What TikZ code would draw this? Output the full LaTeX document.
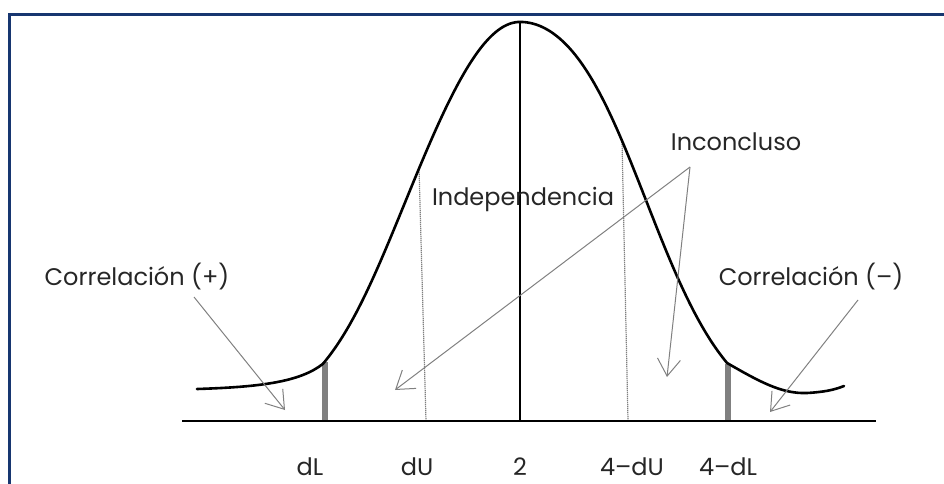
\documentclass[tikz,border=0pt]{standalone}
\usepackage{fontspec}
\setmainfont{Poppins}
\usetikzlibrary{arrows.meta}
\definecolor{framenavy}{RGB}{23,54,112}
\begin{document}
\begin{tikzpicture}[x=1pt,y=-1pt,
  txt/.style={font=\fontsize{24}{28}\selectfont, inner sep=0pt, anchor=base, text=black!85},
  bell/.style={line width=2.6pt, line join=round, line cap=round},
  axisline/.style={line width=2.4pt},
  midline/.style={line width=2pt},
  dotline/.style={draw=black!50, line width=1.2pt, dash pattern=on 1.2pt off 0.8pt},
  critbar/.style={draw=black!50, line width=6pt},
  ptr/.style={draw=black!50, line width=1pt, -{Straight Barb[length=17pt,width=23pt,line width=1pt]}}]
\useasboundingbox (0,0) rectangle (944,484);
% frame
\draw[framenavy, line width=3pt, line join=miter] (9,484) -- (9,15) -- (944,15);
% key coordinates
\coordinate (peak) at (520,22);
\coordinate (mid0) at (520,421);
\coordinate (axL) at (182,421);
\coordinate (axR) at (876,421);
\coordinate (dLt) at (325,362);
\coordinate (dLb) at (325,421);
\coordinate (dUt) at (419,168);
\coordinate (dUb) at (426,421);
\coordinate (fdUt) at (622,142);
\coordinate (fdUb) at (628,421);
\coordinate (fdLt) at (728,364);
\coordinate (fdLb) at (728,421);
% critical bars and dotted lines
\draw[critbar] (dLt) -- (dLb);
\draw[critbar] (fdLt) -- (fdLb);
\draw[dotline] (dUt) -- (dUb);
\draw[dotline] (fdUt) -- (fdUb);
% axis and centre
\draw[axisline] (axL) -- (axR);
\draw[midline] (peak) -- (mid0);
% bell curve: tails + two half-bells
\draw[bell] (197,389) .. controls (260,387) and (300,382) .. (323,363.8)
  -- plot[domain=323:520, samples=90, variable=\x]
     (\x, {422-400*exp(-0.5*((520-\x)/(100+7*exp(-((520-\x)/150)^4)))^2)})
  -- plot[domain=520:727, samples=90, variable=\x]
     (\x, {422-400*exp(-0.5*((\x-520)/(104+36*exp(-((\x-520)/120)^2)))^2)})
  .. controls (760,382) and (782,394) .. (807,393)
  .. controls (824,392) and (834,390) .. (844,386);
% texts
\node[txt] (cpos) at (137,285) {Correlación (+)};
\node[txt] (cneg) at (811,285) {Correlación (–)};
\node[txt] (inc) at (736,150) {Inconcluso};
\node[txt] (ind) at (523,205) {Independencia};
\node[txt] (ldL) at (310,475) {dL};
\node[txt] (ldU) at (417,475) {dU};
\node[txt] (l2) at (520,475) {2};
\node[txt] (l4dU) at (632,475) {4–dU};
\node[txt] (l4dL) at (728,475) {4–dL};
% arrows
\coordinate (cpS) at (194,297);
\coordinate (cpT) at (285,410);
\coordinate (incS) at (690,167);
\coordinate (incT1) at (395,390);
\coordinate (incT2) at (667,377);
\coordinate (cnS) at (858,300);
\coordinate (cnT) at (770,412);
\draw[ptr] (cpS) -- (cpT);
\draw[ptr] (incS) -- (incT1);
\draw[ptr] (incS) -- (incT2);
\draw[ptr] (cnS) -- (cnT);
\end{tikzpicture}
\end{document}
